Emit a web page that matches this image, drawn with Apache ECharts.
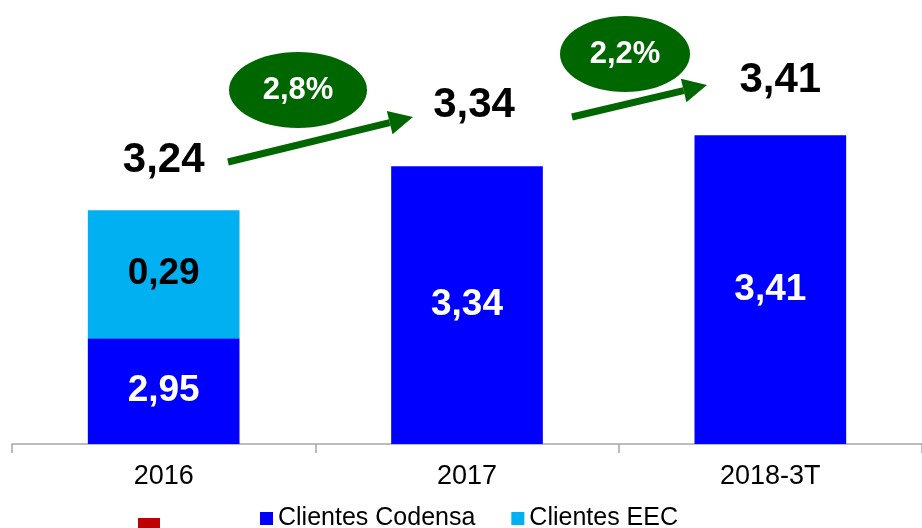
<!DOCTYPE html>
<html><head><meta charset="utf-8">
<script src="https://cdn.jsdelivr.net/npm/echarts@6/dist/echarts.min.js"></script>
<style>html,body{margin:0;padding:0;background:#fff}#c{width:922px;height:528px}</style>
</head><body><div id="c"></div>
<script>
const categories = ['2016', '2017', '2018-3T'];
const codensa = [2.95, 3.34, 3.41];
const eec = [0.29, null, null];
const totals = [3.24, 3.34, 3.41];
const growth = ['2,8%', '2,2%'];
const seriesNames = ['Clientes Codensa', 'Clientes EEC'];

const fmt = v => v.toFixed(2).replace('.', ',');
const FONT = '"Liberation Sans", Arial, sans-serif';

const chart = echarts.init(document.getElementById('c'));
const totalOffsets = [[0, -50], [7, -61], [10, -55]];

function arrow(x1, y1, x2, y2) {
  const ang = Math.atan2(y2 - y1, x2 - x1);
  const L = 24, W = 12;
  const bx = x2 - L * Math.cos(ang), by = y2 - L * Math.sin(ang);
  const px = -Math.sin(ang), py = Math.cos(ang);
  return [
    { type: 'line', shape: { x1, y1, x2: bx, y2: by }, style: { stroke: '#006600', lineWidth: 7 } },
    { type: 'polygon', shape: { points: [[x2, y2], [bx + px * W, by + py * W], [bx - px * W, by - py * W]] }, style: { fill: '#006600' } }
  ];
}

const ellipses = [
  { cx: 298, cy: 90, rx: 69, ry: 38, t: growth[0] },
  { cx: 625, cy: 54, rx: 65, ry: 38, t: growth[1] }
];

const graphics = [].concat(
  arrow(228, 162, 413, 117),
  arrow(572, 117, 707, 85),
  ...ellipses.map(e => [
    { type: 'ellipse', shape: { cx: e.cx, cy: e.cy, rx: e.rx, ry: e.ry }, style: { fill: '#006600' } },
    { type: 'text', x: e.cx, y: e.cy, style: { text: e.t, fill: '#fff', font: 'bold 31px ' + FONT, align: 'center', verticalAlign: 'middle' } }
  ]),
  [{ type: 'rect', shape: { x: 138, y: 518, width: 22, height: 12 }, style: { fill: '#C00000' } }]
);

const totalLabel = { show: true, position: 'inside', color: '#000', fontFamily: FONT, fontWeight: 'bold', fontSize: 42, opacity: 1 };

chart.setOption({
  animation: false,
  grid: { left: 12, width: 916, top: 3, height: 441 },
  legend: {
    data: seriesNames, top: 506, left: 260, padding: 0, itemWidth: 13, itemHeight: 13, itemGap: 36,
    icon: 'rect',
    textStyle: { fontFamily: FONT, fontSize: 25, color: '#000' }
  },
  xAxis: {
    type: 'category', data: categories,
    axisLine: { lineStyle: { color: '#A6A6A6', width: 1.5 } },
    axisTick: { show: true, length: 9, lineStyle: { color: '#A6A6A6', width: 1.5 } },
    axisLabel: { fontFamily: FONT, fontSize: 27, color: '#000', margin: 19 }
  },
  yAxis: { type: 'value', min: 2.71, max: 3.71, show: false, splitLine: { show: false } },
  series: [
    {
      name: seriesNames[0], type: 'bar', stack: 'a', data: codensa, barWidth: '50%',
      itemStyle: { color: '#0000FF' },
      label: { show: true, position: 'inside', formatter: p => fmt(p.value), color: '#fff', fontFamily: FONT, fontWeight: 'bold', fontSize: 37 }
    },
    {
      name: seriesNames[1], type: 'bar', stack: 'a', data: eec, barWidth: '50%',
      itemStyle: { color: '#00B0F0' },
      label: { show: true, position: 'inside', formatter: p => p.value == null ? '' : fmt(p.value), color: '#000', fontFamily: FONT, fontWeight: 'bold', fontSize: 37 }
    },
    {
      name: 'Total', type: 'scatter', symbolSize: 1, silent: true,
      itemStyle: { color: '#fff', opacity: 0 },
      data: totals.map((v, i) => ({ value: v, label: Object.assign({}, totalLabel, { offset: totalOffsets[i] }) })),
      label: Object.assign({ formatter: p => fmt(p.value) }, totalLabel)
    }
  ],
  graphic: graphics
});
</script></body></html>
